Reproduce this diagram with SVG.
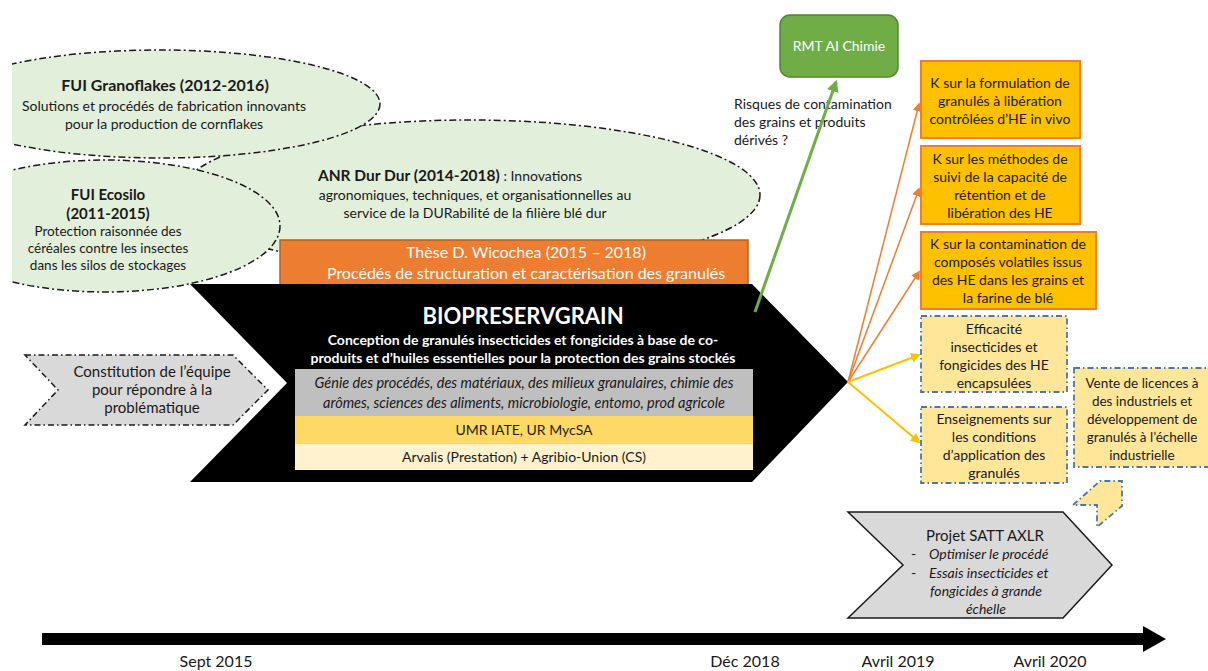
<svg xmlns="http://www.w3.org/2000/svg" width="1208" height="671" viewBox="0 0 1208 671">
<defs>
<style>
text{font-family:Lato,"Open Sans","Liberation Sans",sans-serif;font-size:14px;fill:#1a1a1a}
.c{text-anchor:middle}
.b{font-weight:bold}
.w{fill:#fff}
.i{font-style:italic}
.f13{font-size:13.5px}
.f145{font-size:14.5px}
.f15{font-size:15px}
.f155{font-size:15.5px}
.f16{font-size:16px}
.f22{font-size:22px}
.ell{fill:#E2EFDA;stroke:#1a1a1a;stroke-width:1.5;stroke-dasharray:7 3 2 3}
.kbox{fill:#FFC000;stroke:#ED7D31;stroke-width:2}
.dbox{fill:#FFE699;stroke:#4A76A8;stroke-width:1.8;stroke-dasharray:6 3 1.5 3}
.gch{fill:#D9D9D9;stroke:#1a1a1a;stroke-width:1.5}
</style>
<clipPath id="clipL"><rect x="12" y="0" width="1196" height="671"/></clipPath>
<marker id="mo" viewBox="0 0 10 10" refX="8" refY="5" markerWidth="6" markerHeight="6" orient="auto"><path d="M0,0 L10,5 L0,10 Z" fill="#ED7D31"/></marker>
<marker id="my" viewBox="0 0 10 10" refX="8" refY="5" markerWidth="5" markerHeight="5" orient="auto"><path d="M0,0 L10,5 L0,10 Z" fill="#FFC000"/></marker>
<marker id="mg" viewBox="0 0 10 10" refX="8" refY="5" markerWidth="4" markerHeight="4" orient="auto"><path d="M0,0 L10,5 L0,10 Z" fill="#70AD47"/></marker>
</defs>

<g id="anr">
<ellipse class="ell" cx="470" cy="195" rx="290" ry="75"/>
<text x="450" y="181" class="c"><tspan class="b f155">ANR Dur Dur (2014-2018)</tspan>  : Innovations</text>
<text x="475" y="200" class="c">agronomiques, techniques, et organisationnelles au</text>
<text x="475" y="218" class="c">service de la DURabilité de la filière blé dur</text>
</g>

<g id="granoflakes">
<ellipse class="ell" cx="160" cy="104" rx="220" ry="54" clip-path="url(#clipL)"/>
<text x="165" y="91" class="c b f16">FUI Granoflakes (2012-2016)</text>
<text x="164" y="111" class="c">Solutions et procédés de fabrication innovants</text>
<text x="164" y="129" class="c">pour la production de cornflakes</text>
</g>

<g id="ecosilo">
<ellipse class="ell" cx="105" cy="226" rx="175" ry="66" clip-path="url(#clipL)"/>
<text x="108" y="200" class="c b f15">FUI Ecosilo</text>
<text x="108" y="219" class="c b f15">(2011-2015)</text>
<text x="108" y="236" class="c f13">Protection raisonnée des</text>
<text x="108" y="253" class="c f13">céréales contre les insectes</text>
<text x="108" y="270" class="c f13">dans les silos de stockages</text>
</g>

<g id="these">
<rect x="280" y="240" width="468" height="45" fill="#ED7D31" stroke="#B85F22" stroke-width="1.5"/>
<text x="526" y="258" class="c w f16">Thèse D. Wicochea (2015 – 2018)</text>
<text x="526" y="279" class="c w f16">Procédés de structuration et caractérisation des granulés</text>
</g>

<g id="constitution">
<polygon class="gch" stroke-dasharray="6 3 1.5 3" points="25,355 233,355 268,390 233,425 25,425 58,390"/>
<text x="152" y="377" class="c f15">Constitution de l’équipe</text>
<text x="152" y="395" class="c f15">pour répondre à la</text>
<text x="152" y="413" class="c f15">problématique</text>
</g>

<g id="biopreservgrain">
<polygon points="190,284 752,284 848,382 752,482 190,482 287,383" fill="#000"/>
<text x="523" y="324" class="c b w f22">BIOPRESERVGRAIN</text>
<text x="523" y="345" class="c b w">Conception de granulés insecticides et fongicides à base de co-</text>
<text x="523" y="363" class="c b w">produits et d’huiles essentielles  pour la protection des grains stockés</text>
<rect x="295" y="369" width="458" height="47" fill="#BFBFBF"/>
<text x="524" y="388" class="c i f145">Génie des procédés, des matériaux, des milieux granulaires, chimie des</text>
<text x="524" y="408" class="c i f145">arômes, sciences des aliments, microbiologie, entomo, prod agricole</text>
<rect x="295" y="416" width="458" height="28" fill="#FFD966"/>
<text x="524" y="435" class="c">UMR IATE, UR MycSA</text>
<rect x="295" y="444" width="458" height="26" fill="#FFF2CC"/>
<text x="524" y="462" class="c">Arvalis (Prestation) + Agribio-Union (CS)</text>
</g>

<g id="rmt">
<rect x="780" y="15" width="118" height="62" rx="10" fill="#70AD47" stroke="#548235" stroke-width="1.5"/>
<text x="839" y="51" class="c w">RMT AI Chimie</text>
</g>

<g id="risques">
<text x="734" y="109">Risques de contamination</text>
<text x="734" y="127">des grains et produits</text>
<text x="734" y="145">dérivés ?</text>
</g>

<g id="connectors">
<line x1="755" y1="312" x2="836" y2="82" stroke="#70AD47" stroke-width="3" marker-end="url(#mg)"/>
<line x1="848" y1="382" x2="919" y2="104" stroke="#ED7D31" stroke-width="1.5" marker-end="url(#mo)"/>
<line x1="848" y1="382" x2="919" y2="189" stroke="#ED7D31" stroke-width="1.5" marker-end="url(#mo)"/>
<line x1="848" y1="382" x2="919" y2="272" stroke="#ED7D31" stroke-width="1.5" marker-end="url(#mo)"/>
<line x1="848" y1="382" x2="919" y2="355" stroke="#FFC000" stroke-width="2" marker-end="url(#my)"/>
<line x1="848" y1="382" x2="919" y2="442" stroke="#FFC000" stroke-width="2" marker-end="url(#my)"/>
</g>

<g id="k1">
<rect class="kbox" x="921" y="61" width="159" height="77"/>
<text x="1000" y="88" class="c">K sur la formulation de</text>
<text x="1000" y="106" class="c">granulés à libération</text>
<text x="1000" y="124" class="c">contrôlées d’HE in vivo</text>
</g>
<g id="k2">
<rect class="kbox" x="921" y="146" width="159" height="78"/>
<text x="1000" y="164" class="c">K sur les méthodes de</text>
<text x="1000" y="182" class="c">suivi de la capacité de</text>
<text x="1000" y="200" class="c">rétention et de</text>
<text x="1000" y="218" class="c">libération des HE</text>
</g>
<g id="k3">
<rect class="kbox" x="921" y="232" width="175" height="77"/>
<text x="1008" y="249" class="c">K sur la contamination de</text>
<text x="1008" y="267" class="c">composés volatiles issus</text>
<text x="1008" y="285" class="c">des HE dans les grains et</text>
<text x="1008" y="303" class="c">la farine de blé</text>
</g>
<g id="efficacite">
<rect class="dbox" x="921" y="316" width="146" height="76"/>
<text x="994" y="334" class="c">Efficacité</text>
<text x="994" y="352" class="c">insecticides et</text>
<text x="994" y="370" class="c">fongicides des HE</text>
<text x="994" y="388" class="c">encapsulées</text>
</g>
<g id="enseignements">
<rect class="dbox" x="921" y="407" width="146" height="76"/>
<text x="994" y="424" class="c">Enseignements sur</text>
<text x="994" y="442" class="c">les conditions</text>
<text x="994" y="460" class="c">d’application des</text>
<text x="994" y="478" class="c">granulés</text>
</g>
<g id="vente">
<rect class="dbox" x="1074" y="368" width="140" height="99"/>
<text x="1142" y="388" class="c f13">Vente de licences à</text>
<text x="1142" y="406" class="c f13">des industriels et</text>
<text x="1142" y="424" class="c f13">développement de</text>
<text x="1142" y="442" class="c f13">granulés à l’échelle</text>
<text x="1142" y="460" class="c f13">industrielle</text>
</g>
<g id="small-arrow">
<polygon class="dbox" points="1073,505 1100,481 1122,481 1122,506 1097,527 1097,505"/>
</g>

<g id="satt">
<polygon class="gch" points="848,512 1063,512 1112,565 1063,618 848,618 903,565"/>
<text x="985" y="541" class="c f15">Projet SATT AXLR</text>
<text x="911" y="559">-</text><text x="929" y="559" class="i">Optimiser le procédé</text>
<text x="911" y="578">-</text><text x="929" y="578" class="i">Essais insecticides et</text>
<text x="986" y="596" class="c i">fongicides à grande</text>
<text x="986" y="614" class="c i">échelle</text>
</g>

<g id="timeline">
<rect x="42" y="633" width="1104" height="12" fill="#000"/>
<polygon points="1143,626 1166,639 1143,652" fill="#000"/>
<text x="216" y="667" class="c f16">Sept 2015</text>
<text x="745" y="667" class="c f16">Déc 2018</text>
<text x="898" y="667" class="c f16">Avril 2019</text>
<text x="1050" y="667" class="c f16">Avril 2020</text>
</g>
</svg>
